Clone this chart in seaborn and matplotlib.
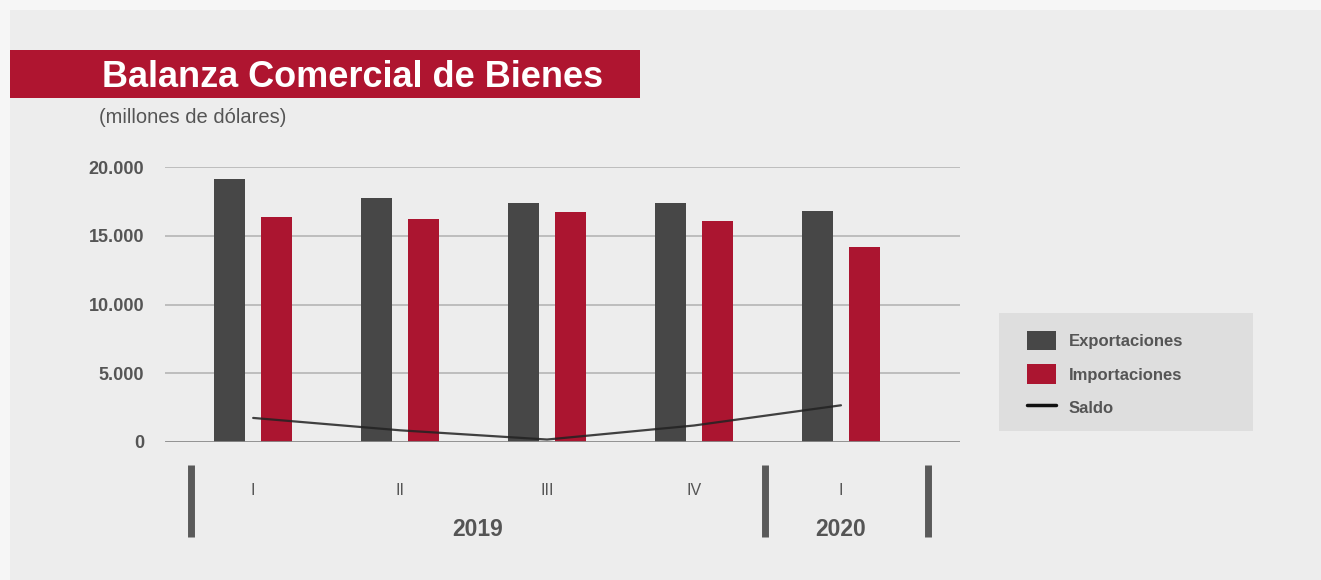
import matplotlib
matplotlib.use("Agg")
import matplotlib.pyplot as plt
from matplotlib.patches import Rectangle, Patch
from matplotlib.lines import Line2D
import seaborn as sns
import pandas as pd

# data (millones de dólares)
periods = ["2019-I", "2019-II", "2019-III", "2019-IV", "2020-I"]
quarter_labels = ["I", "II", "III", "IV", "I"]
exportaciones = [19100, 17750, 17400, 17400, 16800]
importaciones = [16400, 16200, 16750, 16100, 14200]
saldo = [1750, 850, 180, 1200, 2670]
years = ["2019", "2020"]
yticks = [0, 5000, 10000, 15000, 20000]

DARK = "#474747"
RED = "#ab1530"
GREY_TXT = "#555555"

sns.set_style("white")
plt.rcParams["font.family"] = ["Liberation Sans", "DejaVu Sans"]

df = pd.DataFrame({
    "periodo": periods * 2,
    "valor": exportaciones + importaciones,
    "serie": ["Exportaciones"] * 5 + ["Importaciones"] * 5,
})

fig = plt.figure(figsize=(13.21, 5.8), dpi=100)
fig.patch.set_facecolor("#f6f6f6")
fig.add_artist(Rectangle((10 / 1321, 0), 1, 570 / 580, transform=fig.transFigure,
                         facecolor="#ededed", edgecolor="none", zorder=0))

ax = fig.add_axes([165 / 1321, 138 / 580, 795 / 1321, 275 / 580])
ax.set_facecolor("none")

sns.barplot(data=df, x="periodo", y="valor", hue="serie", order=periods,
            palette={"Exportaciones": DARK, "Importaciones": RED},
            saturation=1, linewidth=0, width=0.64, gap=0.34, ax=ax,
            legend=False, zorder=3)
sns.lineplot(x=periods, y=saldo, sort=False, color="#222222", linewidth=1.6,
             alpha=0.85, ax=ax, zorder=4)

ax.set_ylim(0, 20000)
ax.set_xlim(-0.6, 4.81)
ax.set_yticks(yticks)
ax.set_yticklabels([f"{v:,}".replace(",", ".") for v in yticks],
                   fontsize=13, fontweight="bold", color=GREY_TXT)
ax.tick_params(axis="y", length=0, pad=15)
ax.set_xticks([])
ax.set_xlabel("")
ax.set_ylabel("")
for s in ax.spines.values():
    s.set_visible(False)
for v in yticks[1:]:
    ax.axhline(v, color="#b5b5b5", linewidth=1.2, zorder=1)
ax.axhline(0, color="#8a8a8a", linewidth=2, zorder=5)

# quarter and year labels under the axis
xt = ax.get_xaxis_transform()
for i, q in enumerate(quarter_labels):
    ax.text(i, -0.175, q, transform=xt, ha="center", va="center",
            fontsize=11.5, color=GREY_TXT)
ax.text(1.53, -0.32, years[0], transform=xt, ha="center", va="center",
        fontsize=16.5, fontweight="bold", color=GREY_TXT)
ax.text(4, -0.32, years[1], transform=xt, ha="center", va="center",
        fontsize=16.5, fontweight="bold", color=GREY_TXT)
for xs in [-0.42, 3.48, 4.59]:
    ax.plot([xs, xs], [-0.085, -0.345], transform=xt, color="#5a5a5a",
            linewidth=5, clip_on=False, solid_capstyle="butt")

# title band
fig.add_artist(Rectangle((10 / 1321, 482 / 580), 630 / 1321, 48 / 580,
                         transform=fig.transFigure, facecolor="#af1530",
                         edgecolor="none", zorder=1))
fig.text(102 / 1321, (580 - 87) / 580, "Balanza Comercial de Bienes",
         color="white", fontsize=26, fontweight="bold", ha="left",
         va="baseline")
fig.text(99 / 1321, (580 - 123) / 580, "(millones de dólares)", color=GREY_TXT,
         fontsize=14.5, ha="left", va="baseline")

# legend box
fig.add_artist(Rectangle((999 / 1321, 149 / 580), 254 / 1321, 118 / 580,
                         transform=fig.transFigure, facecolor="#dedede",
                         edgecolor="none", zorder=1))
handles = [Patch(facecolor=DARK, edgecolor="none", label="Exportaciones"),
           Patch(facecolor=RED, edgecolor="none", label="Importaciones"),
           Line2D([], [], color="#111111", linewidth=2.5, label="Saldo")]
leg = fig.legend(handles=handles, loc="upper left",
                 bbox_to_anchor=(1012 / 1321, (580 - 316) / 580), frameon=False,
                 handlelength=1.75, handleheight=1.4, handletextpad=0.75,
                 labelspacing=0.85, prop={"size": 12, "weight": "bold"})
for t in leg.get_texts():
    t.set_color(GREY_TXT)

fig.savefig("out.png", dpi=100, facecolor=fig.get_facecolor())
